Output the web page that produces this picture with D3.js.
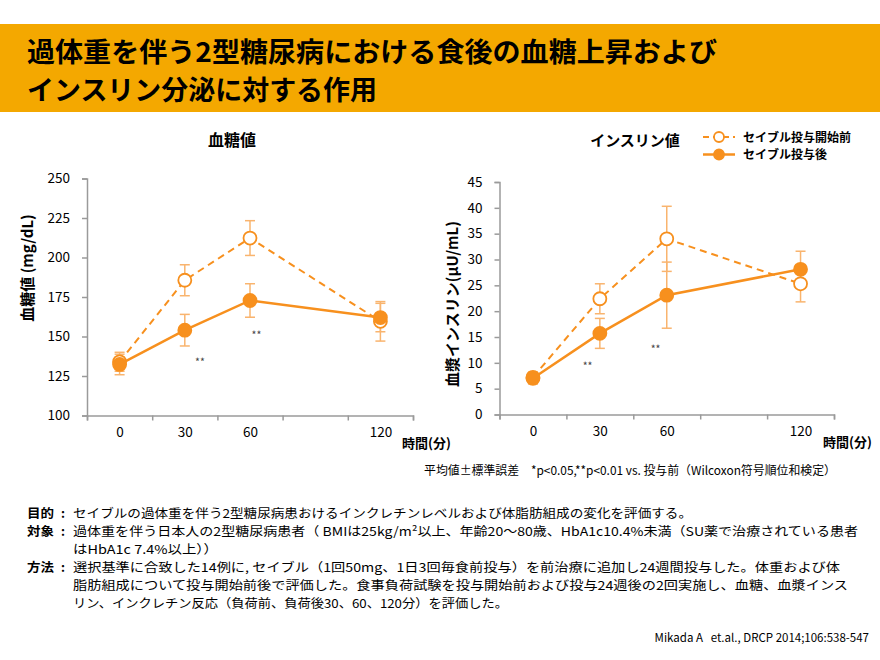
<!DOCTYPE html>
<html>
<head>
<meta charset="utf-8">
<script src="https://cdn.jsdelivr.net/npm/d3@7"></script>
<style>
  body { margin:0; background:#fff; }
  svg { display:block; }
  text { font-family: "Noto Sans CJK JP", "DejaVu Sans", sans-serif; }
</style>
</head>
<body>
<svg id="chart" width="880" height="660"></svg>
<script>
// ---------- data ----------
const titleLines = ["過体重を伴う2型糖尿病における食後の血糖上昇および", "インスリン分泌に対する作用"];
const times = [0, 30, 60, 120];
const timeLabels = ["0", "30", "60", "120"];
const seriesNames = ["セイブル投与開始前", "セイブル投与後"];

const glucoseTicks = [100, 125, 150, 175, 200, 225, 250];
const glucoseBefore = [134, 185.6, 212.3, 159.6];
const glucoseBeforeSE = [6, 9.8, 11, 12.5];
const glucoseAfter = [132.3, 154, 172.8, 162];
const glucoseAfterSE = [6.5, 10, 10.6, 9];
const glucoseSig = [{t: 37, v: 134.6, label: "**"}, {t: 63, v: 151.5, label: "**"}];

const insulinTicks = [0, 5, 10, 15, 20, 25, 30, 35, 40, 45];
const insulinBefore = [7.2, 22.4, 34.0, 25.3];
const insulinBeforeSE = [1.0, 2.9, 6.3, 3.5];
const insulinAfter = [7.0, 15.7, 23.1, 28.1];
const insulinAfterSE = [1.1, 2.9, 6.4, 3.5];
const insulinSig = [{t: 24.5, v: 9.6, label: "**"}, {t: 55, v: 12.9, label: "**"}];

const footnote = "平均値±標準誤差　*p<0.05,**p<0.01 vs. 投与前（Wilcoxon符号順位和検定）";
const bodyHeads = ["目的", "対象", "", "方法", "", ""];
const bodyTexts = [
  "セイブルの過体重を伴う2型糖尿病患おけるインクレチンレベルおよび体脂肪組成の変化を評価する。",
  "過体重を伴う日本人の2型糖尿病患者（ BMIは25kg/m²以上、年齢20～80歳、HbA1c10.4%未満（SU薬で治療されている患者",
  "はHbA1c 7.4%以上））",
  "選択基準に合致した14例に, セイブル（1回50mg、1日3回毎食前投与）を前治療に追加し24週間投与した。体重および体",
  "脂肪組成について投与開始前後で評価した。食事負荷試験を投与開始前および投与24週後の2回実施し、血糖、血漿インス",
  "リン、インクレチン反応（負荷前、負荷後30、60、120分）を評価した。"
];
const citation = "Mikada A   et.al., DRCP 2014;106:538-547";

// ---------- style / layout ----------
const ORANGE = "#F7901E";
const ERR = "#F9B46E";
const AXIS = "#9A9A9A";
const bodyWidths = [619, 785, 145, 767, 775, 435];

const svg = d3.select("#chart");

// banner
svg.append("rect").attr("x", 0).attr("y", 24).attr("width", 880).attr("height", 88).attr("fill", "#F4A800");
svg.selectAll(".title").data(titleLines).join("text")
  .attr("x", 27).attr("y", (d, i) => 62 + i * 38)
  .attr("font-size", 27).attr("font-weight", 700).attr("fill", "#000")
  .attr("textLength", (d, i) => i === 0 ? 690 : 350).attr("lengthAdjust", "spacingAndGlyphs")
  .text(d => d);

function drawPanel(cfg) {
  const x = d3.scaleLinear().domain([-15, 135]).range([cfg.x0, cfg.x1]);
  const y = d3.scaleLinear().domain(cfg.domain).range([cfg.y0, cfg.y1]);
  const g = svg.append("g");

  // y axis
  const ya = g.append("g").attr("transform", `translate(${cfg.x0},0)`)
    .call(d3.axisLeft(y).tickValues(cfg.ticks).tickSize(5).tickPadding(12));
  ya.select(".domain").attr("stroke", AXIS).attr("stroke-width", 1.5);
  ya.selectAll(".tick line").attr("stroke", AXIS).attr("stroke-width", 1.5);
  ya.selectAll(".tick text").attr("font-family", "DejaVu Sans").attr("font-size", 13.5).attr("fill", "#000");

  // x axis: tick marks at category boundaries
  const xa = g.append("g").attr("transform", `translate(0,${cfg.y0})`)
    .call(d3.axisBottom(x).tickValues([-15, 15, 45, 75, 105, 135]).tickSize(5).tickFormat(""));
  xa.select(".domain").attr("stroke", AXIS).attr("stroke-width", 1.5);
  xa.selectAll(".tick line").attr("stroke", AXIS).attr("stroke-width", 1.5);
  // x labels
  const xl = g.append("g").attr("transform", `translate(0,${cfg.y0})`)
    .call(d3.axisBottom(x).tickValues(times).tickSize(0).tickPadding(12).tickFormat((d, i) => timeLabels[i]));
  xl.select(".domain").remove();
  xl.selectAll(".tick text").attr("font-family", "DejaVu Sans").attr("font-size", 13.5).attr("fill", "#000");

  g.append("text").attr("x", cfg.x1 - 11).attr("y", cfg.y0 + 32)
    .attr("font-size", 13).attr("font-weight", 700).text("時間(分)");

  // title
  g.append("text").attr("x", cfg.titleX).attr("y", 146).attr("text-anchor", "middle")
    .attr("font-size", cfg.titleSize).attr("font-weight", 700).text(cfg.title);

  // y label
  g.append("text").attr("transform", `translate(${cfg.ylabX},${cfg.ylabY}) rotate(-90)`)
    .attr("text-anchor", "middle").attr("font-size", 15).attr("font-weight", 700).text(cfg.ylab);

  const series = [
    {vals: cfg.before, se: cfg.beforeSE, dash: "7,5", fill: "#fff", width: 2},
    {vals: cfg.after, se: cfg.afterSE, dash: null, fill: ORANGE, width: 2.5}
  ];
  // error bars
  series.forEach(s => {
    const eg = g.append("g").attr("stroke", ERR).attr("stroke-width", 1.5);
    times.forEach((t, i) => {
      const lo = y(s.vals[i] - s.se[i]), hi = y(s.vals[i] + s.se[i]);
      eg.append("line").attr("x1", x(t)).attr("x2", x(t)).attr("y1", lo).attr("y2", hi);
      eg.append("line").attr("x1", x(t) - 5).attr("x2", x(t) + 5).attr("y1", lo).attr("y2", lo);
      eg.append("line").attr("x1", x(t) - 5).attr("x2", x(t) + 5).attr("y1", hi).attr("y2", hi);
    });
  });
  // lines
  series.forEach(s => {
    const line = d3.line().x((d, i) => x(times[i])).y(d => y(d));
    g.append("path").datum(s.vals).attr("d", line).attr("fill", "none")
      .attr("stroke", ORANGE).attr("stroke-width", s.width).attr("stroke-dasharray", s.dash);
  });
  // markers
  series.forEach(s => {
    g.selectAll(null).data(s.vals).join("circle")
      .attr("cx", (d, i) => x(times[i])).attr("cy", d => y(d)).attr("r", 6.5)
      .attr("fill", s.fill).attr("stroke", ORANGE).attr("stroke-width", 1.8);
  });
  // significance
  g.selectAll(null).data(cfg.sig).join("text")
    .attr("x", d => x(d.t)).attr("y", d => y(d.v) + 5).attr("text-anchor", "middle")
    .attr("font-family", "DejaVu Sans").attr("font-size", 10.5).attr("fill", "#444")
    .text(d => d.label);
}

drawPanel({x0: 87, x1: 413, y0: 415.5, y1: 178.5, domain: [100, 250], ticks: glucoseTicks,
  before: glucoseBefore, beforeSE: glucoseBeforeSE, after: glucoseAfter, afterSE: glucoseAfterSE,
  sig: glucoseSig, title: "血糖値", titleSize: 16, titleX: 232, ylab: "血糖値 (mg/dL)", ylabX: 33, ylabY: 268});

drawPanel({x0: 499.5, x1: 834, y0: 414.5, y1: 182, domain: [0, 45], ticks: insulinTicks,
  before: insulinBefore, beforeSE: insulinBeforeSE, after: insulinAfter, afterSE: insulinAfterSE,
  sig: insulinSig, title: "インスリン値", titleSize: 15, titleX: 635, ylab: "血漿インスリン(μU/mL)", ylabX: 458, ylabY: 304});

// legend
const leg = svg.append("g");
seriesNames.forEach((name, i) => {
  const ly = 137 + i * 17.5;
  leg.append("line").attr("x1", 703).attr("x2", 735).attr("y1", ly).attr("y2", ly)
    .attr("stroke", ORANGE).attr("stroke-width", i === 0 ? 2 : 2.5).attr("stroke-dasharray", i === 0 ? "6,4" : null);
  leg.append("circle").attr("cx", 719).attr("cy", ly).attr("r", 5)
    .attr("fill", i === 0 ? "#fff" : ORANGE).attr("stroke", ORANGE).attr("stroke-width", 1.8);
  leg.append("text").attr("x", 743).attr("y", ly + 4.5).attr("font-size", 12).attr("font-weight", 700).text(name);
});

// footnote
svg.append("text").attr("x", 424).attr("y", 475).attr("font-size", 12)
  .attr("textLength", 412).attr("lengthAdjust", "spacingAndGlyphs").text(footnote);

// body
const BODY_FS = 12.3;
bodyTexts.forEach((t, i) => {
  const yy = 518 + i * 18;
  if (bodyHeads[i]) {
    svg.append("text").attr("x", 27).attr("y", yy).attr("font-size", BODY_FS)
      .attr("font-weight", 700).attr("textLength", 27).attr("lengthAdjust", "spacingAndGlyphs").text(bodyHeads[i]);
    svg.append("text").attr("x", 61).attr("y", yy).attr("font-size", BODY_FS).attr("font-weight", 700).text(":");
  }
  svg.append("text").attr("x", 73).attr("y", yy).attr("font-size", BODY_FS)
    .attr("textLength", bodyWidths[i]).attr("lengthAdjust", "spacingAndGlyphs").text(t);
});

svg.append("text").attr("x", 869).attr("y", 642).attr("text-anchor", "end")
  .attr("font-family", "Liberation Sans, Arial")
  .attr("font-size", 11.5).style("white-space", "pre").text(citation);
</script>
</body>
</html>
